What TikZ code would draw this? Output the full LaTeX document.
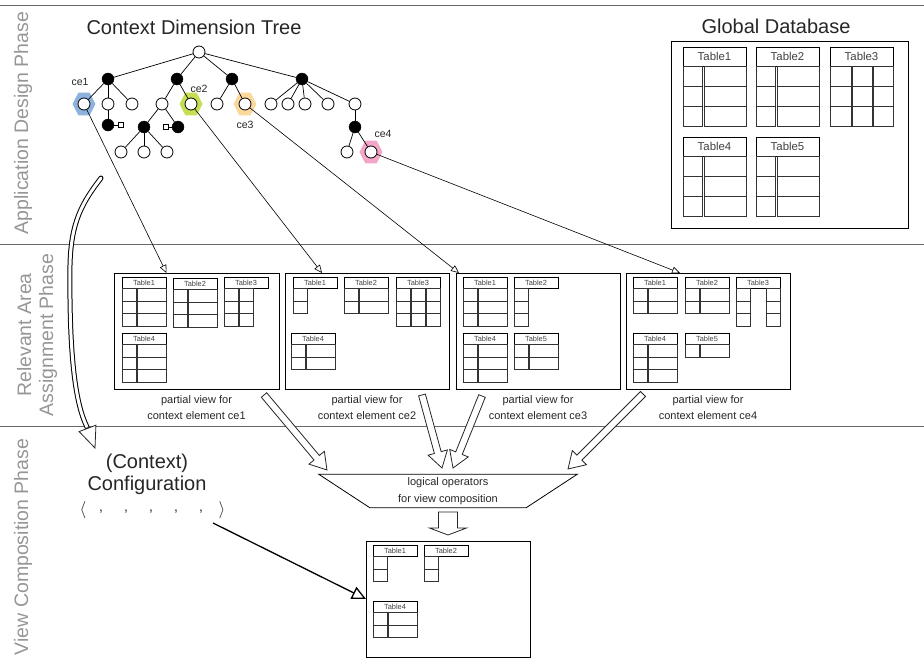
\documentclass[tikz,border=0pt]{standalone}
\usepackage{fontspec}
\setmainfont{Liberation Sans}
\usetikzlibrary{arrows.meta,calc,positioning,shapes.geometric}

\definecolor{phasegray}{RGB}{150,150,150}
\definecolor{ruleline}{RGB}{105,105,105}
\definecolor{ceblue}{RGB}{141,178,222}
\definecolor{cegreen}{RGB}{196,224,82}
\definecolor{ceorange}{RGB}{251,216,156}
\definecolor{cepink}{RGB}{243,166,200}

% table: name, x, y, label, rows, columns as offset/width
\newcommand\dbtable[6]{%
  \node[tbl head] (#1) at (#2,#3) {#4};
  \foreach \rw in {1,...,#5}
    \foreach \cx/\cw in {#6}
      \draw[tbl cell] ([shift={(\cx,{(\rw-1)*\tblrow})}]#1.south west)
        rectangle ++(\cw,\tblrow);
}

% outlined block arrow: [shaft half width/head half width/head length]{from}{to}
\newcommand\hollowarrow[3][3.5/10/16]{%
  \foreach \sw/\hw/\hlen in {#1}
    \draw[hollow] let \p1=(#2), \p2=(#3),
        \n1={atan2(\y2-\y1,\x2-\x1)}, \n2={veclen(\x2-\x1,\y2-\y1)} in
      [shift={(\p1)},rotate=\n1]
      (0pt,{\sw*1pt}) -- ({\n2-\hlen*1pt},{\sw*1pt}) -- ({\n2-\hlen*1pt},{\hw*1pt})
      -- ({\n2+0pt},0pt) -- ({\n2-\hlen*1pt},{-\hw*1pt}) -- ({\n2-\hlen*1pt},{-\sw*1pt})
      -- (0pt,{-\sw*1pt}) -- cycle;
}

\begin{document}
\begin{tikzpicture}[x=1pt,y=-1pt,
    every node/.style={text=black!85},
    title/.style={font=\fontsize{20}{22}\selectfont},
    phase label/.style={rotate=90,text=phasegray,align=center,font=\fontsize{19.5}{22}\selectfont},
    phase rule/.style={draw=ruleline,line width=1pt},
    open node/.style={circle,draw,fill=white,minimum size=12pt,inner sep=0pt,line width=0.8pt},
    dim node/.style={circle,draw,fill=black,minimum size=12pt,inner sep=0pt},
    param node/.style={rectangle,draw,fill=white,minimum size=5pt,inner sep=0pt,line width=0.6pt},
    ce mark/.style={regular polygon,regular polygon sides=6,minimum size=26pt,inner sep=0pt,xscale=0.88},
    ce label/.style={font=\fontsize{10.5}{12}\selectfont},
    tree edge/.style={draw,line width=0.7pt},
    select arrow/.style={draw,line width=0.6pt,-{Triangle[open,length=8pt,width=7pt]}},
    config arrow/.style={draw,line width=1.3pt,-{Triangle[open,length=14pt,width=13pt]}},
    hollow/.style={draw=black!85,fill=white,line width=0.8pt},
    view box/.style={draw,line width=0.9pt,minimum width=164pt,minimum height=116pt,
                     inner sep=0pt,outer sep=0pt,anchor=north west},
    view caption/.style={align=center,font=\fontsize{11}{16}\selectfont,inner sep=0pt},
    tbl head/.style={draw,anchor=north west,inner sep=0pt,outer sep=0pt,
                     minimum width=\tblw pt,minimum height=\tblh pt,font=\tblfont,text=black!75},
    tbl cell/.style={draw=black!80,line width=0.8pt},
    big tables/.code={\def\tblw{63}\def\tblh{19}\def\tblrow{20}%
                      \def\tblfont{\fontsize{11.4}{12}\selectfont}},
    small tables/.code={\def\tblw{44}\def\tblh{11.5}\def\tblrow{12.6}%
                        \def\tblfont{\fontsize{7.4}{8}\selectfont}}]

  \useasboundingbox (0,0) rectangle (924,664);

  % phases
  \draw[phase rule] (0,5) -- (924,5);
  \draw[phase rule] (0,244) -- (924,244);
  \draw[phase rule] (0,426) -- (924,426);
  \node[phase label] (design) at (23,123) {Application Design Phase};
  \node[phase label] (assign) at (37,335) {Relevant Area\\Assignment Phase};
  \node[phase label] (compose) at (23,547) {View Composition Phase};

  % context dimension tree
  \node[title] (cdt) at (194,27) {Context Dimension Tree};
  \node[ce mark,fill=ceblue] (ce1mark) at (84,104) {};
  \node[ce mark,fill=cegreen] (ce2mark) at (191,104) {};
  \node[ce mark,fill=ceorange] (ce3mark) at (245,104) {};
  \node[ce mark,fill=cepink] (ce4mark) at (371,152) {};

  \node[open node] (root) at (199,52) {};
  \node[dim node] (a) at (108,79) {};
  \node[dim node] (b) at (177,79) {};
  \node[dim node] (c) at (232,79) {};
  \node[dim node] (d) at (302,79) {};

  \node[open node] (ce1) at (84,104) {};
  \node[open node] (a2) at (108,104) {};
  \node[open node] (a3) at (132,104) {};
  \node[open node] (b1) at (162,104) {};
  \node[open node] (ce2) at (191,104) {};
  \node[open node] (c1) at (217,104) {};
  \node[open node] (ce3) at (245,104) {};
  \node[open node] (d1) at (271,104) {};
  \node[open node] (d2) at (288,104) {};
  \node[open node] (d3) at (305,104) {};
  \node[open node] (d4) at (328,104) {};
  \node[open node] (d5) at (355,104) {};

  \node[dim node] (a2x) at (108,125) {};
  \node[param node] (a2p) at (121,125) {};
  \node[dim node] (b1a) at (144,127) {};
  \node[dim node] (b1b) at (178,127) {};
  \node[param node] (b1p) at (166,127) {};
  \node[dim node] (d5x) at (355,127) {};

  \node[open node] (b1a1) at (121,152) {};
  \node[open node] (b1a2) at (144,152) {};
  \node[open node] (b1a3) at (167,152) {};
  \node[open node] (d5x1) at (347,152) {};
  \node[open node] (ce4) at (371,152) {};

  \path[tree edge]
    (root) edge (a) edge (b) edge (c) edge (d)
    (a) edge (ce1) edge (a2) edge (a3)
    (b) edge (b1) edge (ce2)
    (c) edge (c1) edge (ce3)
    (d) edge (d1) edge (d2) edge (d3) edge (d4) edge (d5)
    (a2) edge (a2x)
    (a2x) edge (a2p)
    (b1) edge (b1a) edge (b1b)
    (b1b) edge (b1p)
    (b1a) edge (b1a1) edge (b1a2) edge (b1a3)
    (d5) edge (d5x)
    (d5x) edge (d5x1) edge (ce4);

  \node[ce label] (ce1lbl) at (80,82) {ce1};
  \node[ce label] (ce2lbl) at (199,89) {ce2};
  \node[ce label] (ce3lbl) at (245,125) {ce3};
  \node[ce label] (ce4lbl) at (383,134) {ce4};

  % global database
  \node[title] (gdbtitle) at (776,26) {Global Database};
  \node[draw,line width=0.9pt,minimum width=237pt,minimum height=187pt,
        inner sep=0pt,anchor=north west] (globaldb) at (671,41) {};
  \begin{scope}[big tables]
    \dbtable{g1}{683}{47}{Table1}{3}{0/19,21/42}
    \dbtable{g2}{756}{47}{Table2}{3}{0/19,21/42}
    \dbtable{g3}{830}{47}{Table3}{3}{0/21,22/20,43/20}
    \dbtable{g4}{683}{137}{Table4}{3}{0/19,21/42}
    \dbtable{g5}{756}{137}{Table5}{3}{0/19,21/42}
  \end{scope}

  % partial views
  \node[view box,minimum width=165pt] (view1) at (114,273) {};
  \node[view box] (view2) at (285,273) {};
  \node[view box] (view3) at (456,273) {};
  \node[view box] (view4) at (626,273) {};
  \node[view caption,below=6pt of view1] (cap1) {partial view for\\context element ce1};
  \node[view caption,below=6pt of view2] (cap2) {partial view for\\context element ce2};
  \node[view caption,below=6pt of view3] (cap3) {partial view for\\context element ce3};
  \node[view caption,below=6pt of view4] (cap4) {partial view for\\context element ce4};

  \begin{scope}[small tables]
    \dbtable{v1t1}{122}{277}{Table1}{3}{0/14,15/29}
    \dbtable{v1t2}{173}{278}{Table2}{3}{0/14,15/29}
    \dbtable{v1t3}{224}{277}{Table3}{3}{0/14,15/14}
    \dbtable{v1t4}{122}{333}{Table4}{3}{0/14,15/29}

    \dbtable{v2t1}{293}{277}{Table1}{2}{0/14}
    \dbtable{v2t2}{344}{277}{Table2}{2}{0/14,15/29}
    \dbtable{v2t3}{396}{277}{Table3}{3}{0/14,15/14,30/14}
    \dbtable{v2t4}{291}{333}{Table4}{2}{0/14,15/29}

    \dbtable{v3t1}{463}{277}{Table1}{3}{0/14,15/29}
    \dbtable{v3t2}{514}{277}{Table2}{3}{0/14}
    \dbtable{v3t4}{463}{333}{Table4}{3}{0/14,15/29}
    \dbtable{v3t5}{514}{333}{Table5}{2}{0/14,15/29}

    \dbtable{v4t1}{633}{277}{Table1}{2}{0/14,15/29}
    \dbtable{v4t2}{685}{277}{Table2}{2}{0/14,15/29}
    \dbtable{v4t3}{736}{277}{Table3}{3}{0/14,30/14}
    \dbtable{v4t4}{633}{333}{Table4}{3}{0/14,15/29}
    \dbtable{v4t5}{685}{333}{Table5}{1}{0/14,15/29}
  \end{scope}

  \path[select arrow]
    (ce1) edge ([xshift=-30pt]view1.north)
    (ce2) edge ([xshift=-45pt]view2.north)
    (ce3) edge ([xshift=-79pt]view3.north)
    (ce4) edge ([xshift=-28pt]view4.north);

  % composition
  \node[minimum width=258pt,minimum height=33pt,inner sep=0pt,align=center,
        font=\fontsize{11}{17}\selectfont] (ops) at (448,491)
        {logical operators\\for view composition};
  \draw[line width=0.8pt] (ops.north west) -- (ops.north east)
    -- ([xshift=-51pt]ops.south east) -- ([xshift=51pt]ops.south west) -- cycle;

  \coordinate (out1) at (264,395);
  \coordinate (out2) at (422,395);
  \coordinate (out3) at (482,396);
  \coordinate (out4) at (643,394);
  \coordinate (in1) at (327,470);
  \coordinate (in2) at (442,468);
  \coordinate (in3) at (453,468);
  \coordinate (in4) at (568,469);
  \hollowarrow{out1}{in1}
  \hollowarrow{out2}{in2}
  \hollowarrow{out3}{in3}
  \hollowarrow{out4}{in4}

  \node[view box] (result) at (366,541) {};
  \coordinate (opsout) at (448,512);
  \coordinate (resin) at (448,535);
  \hollowarrow[9.5/18.5/7]{opsout}{resin}

  \begin{scope}[small tables]
    \dbtable{r1}{373}{545}{Table1}{2}{0/14}
    \dbtable{r2}{424}{545}{Table2}{2}{0/14}
    \dbtable{r4}{373}{601}{Table4}{2}{0/14,15/29}
  \end{scope}

  % configuration
  \node[title,align=center] (config) at (147,474) {(Context)\\Configuration};
  \node[font=\fontsize{16}{18}\selectfont] (lang) at (83,510) {$\langle$};
  \node[font=\fontsize{16}{18}\selectfont] (rang) at (222,510) {$\rangle$};
  \foreach \i/\x in {1/101,2/126,3/151,4/176,5/201}
    \node[font=\fontsize{14}{16}\selectfont] (comma\i) at (\x,512) {,};

  \coordinate (cfgtop) at (101,178);
  \coordinate (cfgbend) at (87,427);
  \coordinate (cfgtip) at (95,448);
  \draw[line width=1pt,double=white,double distance=3pt,line cap=round]
    (cfgtop) .. controls (82,203) and (71,222) .. (70,265)
    .. controls (69,360) and (76,405) .. (cfgbend);
  \hollowarrow[0/9/21]{cfgbend}{cfgtip}

  \coordinate (cfgstart) at (213,523);
  \draw[config arrow] (cfgstart) -- (result.west);
\end{tikzpicture}
\end{document}
